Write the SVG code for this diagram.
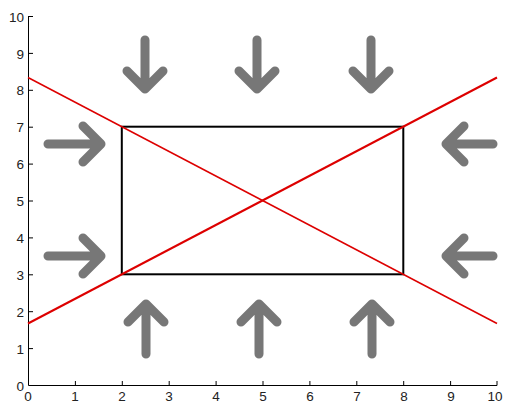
<svg xmlns="http://www.w3.org/2000/svg" width="506" height="405" viewBox="0 0 506 405">
<style>
.ax{stroke:#000;stroke-width:1;fill:none}
.lbl{font-family:"Liberation Sans",Arial,sans-serif;font-size:13.5px;fill:#222}
.arr{stroke:#777;stroke-width:9;fill:none;stroke-linecap:round;stroke-linejoin:round}
.red{stroke:#d00;fill:none}
</style>
<rect width="506" height="405" fill="#fff"/>
<g id="axes">
<path class="ax" d="M28.5,16V385.5H497"/>
<path class="ax" d="M75.4,385.5v-4.5M122.3,385.5v-4.5M169.2,385.5v-4.5M216.1,385.5v-4.5M263,385.5v-4.5M309.9,385.5v-4.5M356.8,385.5v-4.5M403.7,385.5v-4.5M450.6,385.5v-4.5M497,385.5v-4.5"/>
<path class="ax" d="M28.5,348.6h4.5M28.5,311.7h4.5M28.5,274.8h4.5M28.5,237.9h4.5M28.5,201h4.5M28.5,164.1h4.5M28.5,127.2h4.5M28.5,90.3h4.5M28.5,53.4h4.5M28.5,16.5h4.5"/>
<g class="lbl" text-anchor="middle">
<text x="28" y="401">0</text><text x="75" y="401">1</text><text x="122" y="401">2</text><text x="169" y="401">3</text><text x="216" y="401">4</text><text x="263" y="401">5</text><text x="310" y="401">6</text><text x="357" y="401">7</text><text x="404" y="401">8</text><text x="451" y="401">9</text><text x="495" y="401">10</text>
</g>
<g class="lbl" text-anchor="end">
<text x="24" y="391">0</text><text x="24" y="354">1</text><text x="24" y="317">2</text><text x="24" y="280">3</text><text x="24" y="243">4</text><text x="24" y="206">5</text><text x="24" y="169">6</text><text x="24" y="132">7</text><text x="24" y="95">8</text><text x="24" y="59">9</text><text x="24" y="22">10</text>
</g>
</g>
<g id="rectangle"><rect x="121.8" y="126.7" width="281.5" height="147.6" fill="none" stroke="#000" stroke-width="2"/></g>
<g id="lines">
<line class="red" x1="28" y1="77.5" x2="497" y2="323.5" stroke-width="1.5"/>
<line class="red" x1="28" y1="323.5" x2="497" y2="77.5" stroke-width="2"/>
</g>
<g id="arrows">
<g id="down1"><path class="arr" d="M145,40V89M127,71L145,89L163,71"/></g>
<g id="down2"><path class="arr" d="M257,40V89M239,71L257,89L275,71"/></g>
<g id="down3"><path class="arr" d="M371,40V89M353,71L371,89L389,71"/></g>
<g id="up1"><path class="arr" d="M146,354V304M128,322L146,304L164,322"/></g>
<g id="up2"><path class="arr" d="M259,354V304M241,322L259,304L277,322"/></g>
<g id="up3"><path class="arr" d="M372,354V304M354,322L372,304L390,322"/></g>
<g id="right1"><path class="arr" d="M48,144H101M83,126L101,144L83,162"/></g>
<g id="right2"><path class="arr" d="M48,256H101M83,238L101,256L83,274"/></g>
<g id="left1"><path class="arr" d="M493,144H446M464,126L446,144L464,162"/></g>
<g id="left2"><path class="arr" d="M493,256H446M464,238L446,256L464,274"/></g>
</g>
</svg>
